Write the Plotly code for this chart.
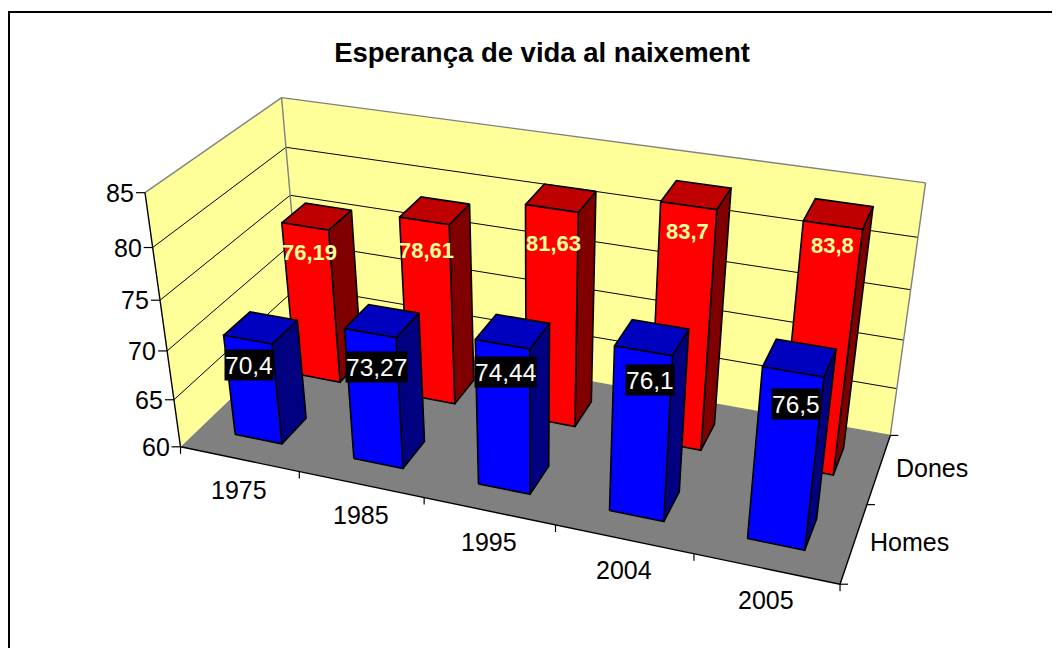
import numpy as np
import plotly.graph_objects as go

# Data
years = ["1975", "1985", "1995", "2004", "2005"]
homes = [70.4, 73.27, 74.44, 76.1, 76.5]
dones = [76.19, 78.61, 81.63, 83.7, 83.8]
series_names = ["Homes", "Dones"]
z_ticks = [60, 65, 70, 75, 80, 85]

# Perspective camera of the 3-D box (world axes: category, series, value)
EYE = np.array([0.7029, -1.9361, 1.0756])
YAW, PITCH, ROLL = 1.9246, -0.5641, -0.0020
ASPECT_Y, ASPECT_Z = 0.3999, 0.4114
FOCAL, CX, CY = 1599.3661, 529.6704, 453.2639
ZMIN, ZMAX = 60, 85
NX, NY = len(years), len(series_names)
BAR_LO, BAR_HI = 0.3, 0.7
PAGE = 8  # browser page margin around the figure

# small pixel nudges of the value labels
homes_nudge = [(-1, 0), (5, 7), (3, 0), (8, 1), (6, 3)]
dones_nudge = [(2, 2), (1, 5), (2, 10), (0, -1), (3, -6)]

_d = np.array([np.cos(PITCH)*np.cos(YAW), np.cos(PITCH)*np.sin(YAW), np.sin(PITCH)])
_r = np.cross(_d, [0, 0, 1.0]); _r /= np.linalg.norm(_r)
_u = np.cross(_r, _d)
_r2 = np.cos(ROLL)*_r + np.sin(ROLL)*_u
_u2 = -np.sin(ROLL)*_r + np.cos(ROLL)*_u

def P(x, y, z):
    w = np.array([x/NX-.5, (y/NY-.5)*ASPECT_Y, ((z-ZMIN)/(ZMAX-ZMIN)-.5)*ASPECT_Z]) - EYE
    dep = w @ _d
    return float(CX + FOCAL*(w @ _r2)/dep), float(CY - FOCAL*(w @ _u2)/dep)

fig = go.Figure()

def poly(pts3, fill):
    p = [P(*a) for a in pts3]; p.append(p[0])
    fig.add_trace(go.Scatter(x=[a[0] for a in p], y=[a[1] for a in p], mode="lines", fill="toself",
                             fillcolor=fill, line=dict(width=0), hoverinfo="skip"))

def poly_edge(pts3, fill, color="black", w=1.6):
    p = [P(*a) for a in pts3]; p.append(p[0])
    fig.add_trace(go.Scatter(x=[a[0] for a in p], y=[a[1] for a in p], mode="lines", fill="toself",
                             fillcolor=fill, line=dict(color=color, width=w), hoverinfo="skip"))

def segs(lst, color="black", w=1.0):
    xs, ys = [], []
    for a, b in lst:
        pa, pb = P(*a), P(*b)
        xs += [pa[0], pb[0], None]; ys += [pa[1], pb[1], None]
    fig.add_trace(go.Scatter(x=xs, y=ys, mode="lines", line=dict(color=color, width=w), hoverinfo="skip"))

def screen_tick(base3, dx, dy, xs, ys):
    p = P(*base3)
    xs += [p[0], p[0]+dx, None]; ys += [p[1], p[1]+dy, None]

# walls and floor
poly([(0, 0, ZMIN), (NX, 0, ZMIN), (NX, NY, ZMIN), (0, NY, ZMIN)], "#808080")
poly([(0, 0, ZMIN), (0, NY, ZMIN), (0, NY, ZMAX), (0, 0, ZMAX)], "#FFFF99")
poly([(0, NY, ZMIN), (NX, NY, ZMIN), (NX, NY, ZMAX), (0, NY, ZMAX)], "#FFFF99")
segs([((0, 0, z), (0, NY, z)) for z in z_ticks[1:-1]] + [((0, NY, z), (NX, NY, z)) for z in z_ticks[1:-1]], "black", 1.0)
segs([((0, 0, ZMAX), (0, NY, ZMAX)), ((0, NY, ZMAX), (NX, NY, ZMAX)), ((NX, NY, ZMAX), (NX, NY, ZMIN)),
      ((0, NY, ZMAX), (0, NY, ZMIN)), ((0, NY, ZMIN), (NX, NY, ZMIN))], "#808080", 1.4)

def bars(vals, s, cf, ct, cs):
    for k, v in enumerate(vals):
        x0, x1, y0, y1 = k+BAR_LO, k+BAR_HI, s+BAR_LO, s+BAR_HI
        poly_edge([(x1, y0, ZMIN), (x1, y1, ZMIN), (x1, y1, v), (x1, y0, v)], cs)
        poly_edge([(x0, y0, v), (x1, y0, v), (x1, y1, v), (x0, y1, v)], ct)
        poly_edge([(x0, y0, ZMIN), (x1, y0, ZMIN), (x1, y0, v), (x0, y0, v)], cf)

bars(dones, 1, "#FF0000", "#BF0000", "#800000")
bars(homes, 0, "#0000FF", "#0000BF", "#000080")

# frame + ticks
segs([((0, 0, ZMIN), (0, 0, ZMAX)), ((0, 0, ZMIN), (NX, 0, ZMIN)), ((NX, 0, ZMIN), (NX, NY, ZMIN))], "black", 1.4)
tx, ty = [], []
for z in z_ticks:
    screen_tick((0, 0, z), -9, 0, tx, ty)
for k in range(NX+1):
    screen_tick((k, 0, ZMIN), 0, 7, tx, ty)
for s in range(NY+1):
    screen_tick((NX, s, ZMIN), 8, 0, tx, ty)
fig.add_trace(go.Scatter(x=tx, y=ty, mode="lines", line=dict(color="black", width=1.2), hoverinfo="skip"))

FONT = "Liberation Sans"
anns = []
def text(x3, s, size, color="black", **kw):
    px, py = P(*x3)
    anns.append(dict(x=px, y=py, xref="x", yref="y", text=s, showarrow=False,
                     font=dict(family=FONT, size=size, color=color), **kw))

for z in z_ticks:
    text((0, 0, z), str(z), 25, xanchor="right", xshift=-9, yanchor="middle")
for k, y in enumerate(years):
    text((k+.5, 0, ZMIN), y, 25, yshift=-31)
for s, n in enumerate(series_names):
    text((NX, s+.5, ZMIN), n, 25, xanchor="left", xshift=14.5, yshift=1)
for k, v in enumerate(homes):
    dx, dy = homes_nudge[k]
    text((k+.5, BAR_LO, v-2.6), str(v).replace(".", ","), 24.5, "white", bgcolor="black", borderpad=0, height=30,
         xshift=dx, yshift=-dy)
for k, v in enumerate(dones):
    dx, dy = dones_nudge[k]
    text((k+.5, 1+BAR_LO, v-2.4), "<b>"+str(v).replace(".", ",")+"</b>", 22, "#FFFF99", xshift=dx, yshift=-dy)

fig.update_layout(
    width=1060, height=648, margin=dict(l=0, r=0, t=0, b=0), paper_bgcolor="white", plot_bgcolor="white",
    showlegend=False,
    xaxis=dict(range=[PAGE, 1060+PAGE], visible=False, fixedrange=True),
    yaxis=dict(range=[648+PAGE, PAGE], visible=False, fixedrange=True),
    title=dict(text="<b>Esperança de vida al naixement</b>", x=(542-PAGE)/1060, y=1-(52-PAGE)/648, xanchor="center", yanchor="middle",
               font=dict(family=FONT, size=27.5, color="black")),
    annotations=anns,
    shapes=[dict(type="path", xref="x", yref="y", path="M 9 660 L 9 12 L 1070 12", line=dict(color="black", width=2))],
)
fig.write_html("out.html")
